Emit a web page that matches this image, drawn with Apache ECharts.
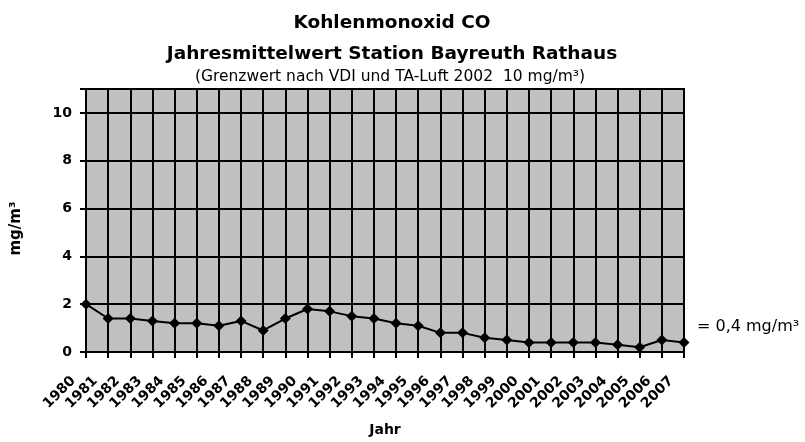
<!DOCTYPE html>
<html>
<head>
<meta charset="utf-8">
<script src="https://cdn.jsdelivr.net/npm/echarts@6/dist/echarts.min.js"></script>
<style>html,body{margin:0;padding:0;background:#fff}#c{width:805px;height:442px}</style>
</head>
<body>
<div id="c"></div>
<script>
const years = ['1980','1981','1982','1983','1984','1985','1986','1987','1988','1989','1990','1991','1992','1993','1994','1995','1996','1997','1998','1999','2000','2001','2002','2003','2004','2005','2006','2007'];
const coValues = [2.0,1.4,1.4,1.3,1.2,1.2,1.1,1.3,0.9,1.4,1.8,1.7,1.5,1.4,1.2,1.1,0.8,0.8,0.6,0.5,0.4,0.4,0.4,0.4,0.3,0.2,0.5,0.4];
const yTicks = [0,2,4,6,8,10];
const titleLines = ['Kohlenmonoxid CO', 'Jahresmittelwert Station Bayreuth Rathaus'];
const subTitle = '(Grenzwert nach VDI und TA-Luft 2002  10 mg/m³)';

const FONT = 'DejaVu Sans, sans-serif';
const chart = echarts.init(document.getElementById('c'), null, {renderer:'canvas'});
chart.setOption({
  animation: false,
  backgroundColor: '#fff',
  title: [{
    text: titleLines.join('\n'),
    left: 392, top: 7.5, textAlign: 'center', padding: 0,
    textStyle: {fontFamily: FONT, fontWeight: 'bold', fontSize: 18.5, lineHeight: 31, color: '#000'}
  }, {
    text: subTitle,
    left: 390, top: 66.5, textAlign: 'center', padding: 0,
    textStyle: {fontFamily: FONT, fontWeight: 'normal', fontSize: 15.5, lineHeight: 20, color: '#000'}
  }],
  grid: {left: 86, right: 121, top: 89, bottom: 90, outerBoundsMode: 'none', containLabel: false,
    show: true, backgroundColor: '#c0c0c0', borderColor: '#000', borderWidth: 2},
  xAxis: {
    type: 'category', data: years, boundaryGap: false,
    name: 'Jahr', nameLocation: 'middle', nameGap: 71,
    nameTextStyle: {fontFamily: FONT, fontWeight: 'bold', fontSize: 14, color: '#000'},
    axisLine: {lineStyle: {color: '#000', width: 2}},
    axisTick: {show: true, length: 6, interval: 0, lineStyle: {color: '#000', width: 2}},
    axisLabel: {rotate: 45, interval: 0, margin: 14, padding: [0, 18, 0, 0], fontFamily: FONT, fontWeight: 'bold', fontSize: 14, color: '#000'},
    splitLine: {show: true, interval: 0, lineStyle: {color: '#000', width: 2}}
  },
  yAxis: {
    type: 'value', min: 0, max: 11, interval: 2,
    name: 'mg/m³', nameLocation: 'middle', nameGap: 62, nameRotate: 90,
    nameTextStyle: {fontFamily: FONT, fontWeight: 'bold', fontSize: 15, color: '#000', padding: [0, 16, 0, 0]},
    axisLine: {show: true, lineStyle: {color: '#000', width: 2}},
    axisTick: {show: true, length: 6, lineStyle: {color: '#000', width: 2}},
    axisLabel: {margin: 14, fontFamily: FONT, fontWeight: 'bold', fontSize: 14, color: '#000',
      formatter: v => yTicks.includes(v) ? String(v) : ''},
    splitLine: {show: true, lineStyle: {color: '#000', width: 2}}
  },
  series: [{
    type: 'line', data: coValues,
    symbol: 'diamond', symbolSize: 11,
    itemStyle: {color: '#000'},
    lineStyle: {color: '#000', width: 2},
    endLabel: {show: true, offset: [5, -16], fontFamily: FONT, fontSize: 16, color: '#000',
      formatter: p => '= ' + String(p.value).replace('.', ',') + ' mg/m³'}
  }]
});
</script>
</body>
</html>
